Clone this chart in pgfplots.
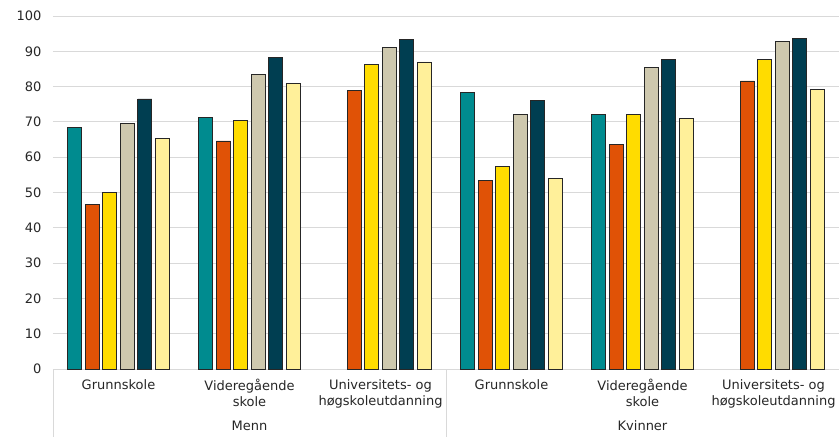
\documentclass[border=0pt]{standalone}
\usepackage{pgfplots}
\pgfplotsset{compat=1.18}
\usepackage{fontspec}
\setmainfont{DejaVu Sans}
\definecolor{cA}{HTML}{008B8F}
\definecolor{cB}{HTML}{E05206}
\definecolor{cC}{HTML}{FFDC00}
\definecolor{cD}{HTML}{CEC8AE}
\definecolor{cE}{HTML}{003E51}
\definecolor{cF}{HTML}{FFF09A}
\definecolor{gridc}{HTML}{D9D9D9}
\definecolor{txt}{HTML}{262626}
\begin{document}
\begin{tikzpicture}
\begin{axis}[
  scale only axis,
  width=786pt, height=353pt,
  xmin=-0.5, xmax=5.5,
  ymin=0, ymax=100,
  ytick={0,10,...,100},
  xtick={0,1,2,3,4,5},
  xticklabels={Grunnskole,{Videregående\\skole},{Universitets- og\\høgskoleutdanning},Grunnskole,{Videregående\\skole},{Universitets- og\\høgskoleutdanning}},
  xticklabel style={align=center, font=\fontsize{13}{16}\selectfont, text=txt, yshift=-7pt},
  yticklabel style={font=\fontsize{13}{15}\selectfont, text=txt, xshift=-8pt},
  /pgf/number format/assume math mode=true,
  major tick length=0pt,
  axis x line=bottom,
  axis y line=left,
  x axis line style={draw=gridc, line width=0.8pt, -},
  y axis line style={draw=none},
  ymajorgrids,
  grid style={draw=gridc, line width=0.8pt},
  ybar=3.5pt,
  bar width=14pt,
  every axis plot/.append style={draw=black!85, line width=0.7pt},
  clip=false,
]
\addplot[fill=cA] coordinates {(0,68.5) (1,71.3) (3,78.4) (4,72.0)};
\addplot[fill=cB] coordinates {(0,46.7) (1,64.6) (2,79.0) (3,53.4) (4,63.7) (5,81.6)};
\addplot[fill=cC] coordinates {(0,50.0) (1,70.3) (2,86.4) (3,57.3) (4,72.0) (5,87.6)};
\addplot[fill=cD] coordinates {(0,69.5) (1,83.5) (2,91.1) (3,72.0) (4,85.4) (5,92.7)};
\addplot[fill=cE] coordinates {(0,76.5) (1,88.3) (2,93.4) (3,76.2) (4,87.6) (5,93.7)};
\addplot[fill=cF] coordinates {(0,65.4) (1,80.9) (2,87.0) (3,54.0) (4,71.0) (5,79.3)};
\draw[gridc, line width=0.8pt] (axis cs:-0.5,0) -- ([yshift=-68pt]axis cs:-0.5,0);
\draw[gridc, line width=0.8pt] (axis cs:2.5,0) -- ([yshift=-68pt]axis cs:2.5,0);
\draw[gridc, line width=0.8pt] (axis cs:5.5,0) -- ([yshift=-68pt]axis cs:5.5,0);
\node[font=\fontsize{13}{15}\selectfont, text=txt] at ([yshift=-57pt]axis cs:1,0) {Menn};
\node[font=\fontsize{13}{15}\selectfont, text=txt] at ([yshift=-57pt]axis cs:4,0) {Kvinner};
\end{axis}
\pgfresetboundingbox
\path[use as bounding box] (-53pt,-68pt) rectangle (786pt,369pt);
\end{tikzpicture}
\end{document}
